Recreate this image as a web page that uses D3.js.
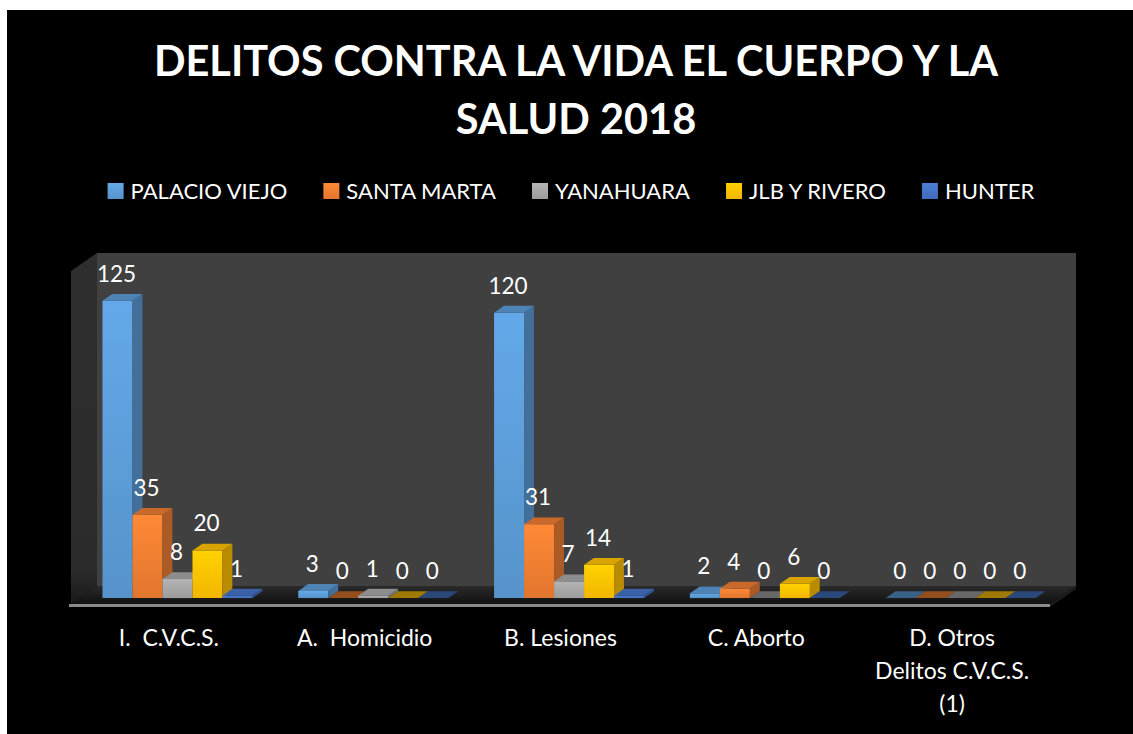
<!DOCTYPE html>
<html>
<head>
<meta charset="utf-8">
<script src="https://cdn.jsdelivr.net/npm/d3@7"></script>
<style>
  html, body { margin: 0; padding: 0; background: #fff; }
  svg { display: block; }
  text { font-family: Lato, "Open Sans", sans-serif; fill: #fff; }
</style>
</head>
<body>
<div id="chart"></div>
<script>
// ---------------------------------------------------------------------------
// Data

const titleLines = ['DELITOS CONTRA LA VIDA EL CUERPO Y LA', 'SALUD 2018'];
const categories = ['I.  C.V.C.S.', 'A.  Homicidio', 'B. Lesiones', 'C. Aborto', 'D. Otros\nDelitos C.V.C.S.\n(1)'];
const seriesNames = ['PALACIO VIEJO', 'SANTA MARTA', 'YANAHUARA', 'JLB Y RIVERO', 'HUNTER'];
const palacioViejo = [125, 3, 120, 2, 0];
const santaMarta = [35, 0, 31, 4, 0];
const yanahuara = [8, 1, 7, 0, 0];
const jlbRivero = [20, 0, 14, 6, 0];
const hunter = [1, 0, 1, 0, 0];
const seriesColors = ['#5B9BD5', '#ED7D31', '#A5A5A5', '#FFC000', '#4472C4'];
const axisMax = 140;

const seriesValues = [palacioViejo, santaMarta, yanahuara, jlbRivero, hunter];

// ---------------------------------------------------------------------------
// Layout

const width = 1133;
const height = 734;
const floorY = 604;      // front edge of the floor
const depthX = 26;       // oblique offset of full depth
const depthY = 18;
const barZ0 = 0.33;
const barZ1 = 0.71;
const barWidth = 30;

const svg = d3.select('#chart').append('svg')
  .attr('width', width)
  .attr('height', height);

svg.append('rect')
  .attr('x', 7).attr('y', 10)
  .attr('width', width - 7).attr('height', height - 10)
  .attr('fill', '#000');

const x0 = d3.scaleBand()
  .domain(categories)
  .range([71, 1050]);

const x1 = d3.scaleBand()
  .domain(seriesNames)
  .range([(x0.bandwidth() - barWidth * seriesNames.length) / 2,
          (x0.bandwidth() + barWidth * seriesNames.length) / 2]);

const hScale = d3.scaleLinear()
  .domain([0, axisMax])
  .range([0, 333]);

function proj(x, h, z) {
  return [x + z * depthX, floorY - z * depthY - h];
}
function poly(points) {
  return 'M' + points.map(p => p.join(',')).join('L') + 'Z';
}

const defs = svg.append('defs');

// ---------------------------------------------------------------------------
// Walls and floor

const xMin = x0.range()[0];
const xMax = x0.range()[1];
const hMax = hScale(axisMax);

const floorGrad = defs.append('linearGradient')
  .attr('id', 'floor-grad').attr('x1', 0).attr('y1', 0).attr('x2', 0).attr('y2', 1);
floorGrad.append('stop').attr('offset', '0%').attr('stop-color', '#2a2a2a');
floorGrad.append('stop').attr('offset', '100%').attr('stop-color', '#111');

const sideGrad = defs.append('linearGradient')
  .attr('id', 'side-grad').attr('x1', 0).attr('y1', 0).attr('x2', 0).attr('y2', 1);
sideGrad.append('stop').attr('offset', '0%').attr('stop-color', '#2e2e2e');
sideGrad.append('stop').attr('offset', '90%').attr('stop-color', '#2b2b2b');
sideGrad.append('stop').attr('offset', '100%').attr('stop-color', '#1a1a1a');

svg.append('path')
  .attr('d', poly([proj(xMin, 0, 1), proj(xMax, 0, 1), proj(xMax, hMax, 1), proj(xMin, hMax, 1)]))
  .attr('fill', '#404040');

svg.append('path')
  .attr('d', poly([proj(xMin, 0, 0), proj(xMin, 0, 1), proj(xMin, hMax, 1), proj(xMin, hMax, 0)]))
  .attr('fill', 'url(#side-grad)');

svg.append('path')
  .attr('d', poly([proj(xMin, 0, 0), proj(xMax, 0, 0), proj(xMax, 0, 1), proj(xMin, 0, 1)]))
  .attr('fill', 'url(#floor-grad)');

// floor slab front edge
svg.append('path')
  .attr('d', poly([[xMin - 2, floorY], [xMax, floorY], [xMax, floorY + 3], [xMin - 2, floorY + 3]]))
  .attr('fill', '#8a8a8a');
svg.append('path')
  .attr('d', poly([[xMax, floorY], proj(xMax, 0, 1), [xMax + depthX, floorY - depthY + 3], [xMax, floorY + 3]]))
  .attr('fill', '#1c1c1c');

// ---------------------------------------------------------------------------
// Bars

seriesColors.forEach((c, i) => {
  const g = defs.append('linearGradient')
    .attr('id', 'bar-grad-' + i).attr('x1', 0).attr('y1', 0).attr('x2', 0).attr('y2', 1);
  g.append('stop').attr('offset', '0%').attr('stop-color', d3.color(c).brighter(0.25));
  g.append('stop').attr('offset', '100%').attr('stop-color', d3.color(c).darker(0.15));
});

const bars = [];
categories.forEach((cat, ci) => {
  seriesNames.forEach((s, si) => {
    bars.push({category: cat, series: s, si: si, value: seriesValues[si][ci]});
  });
});

const barG = svg.append('g').attr('class', 'bars');

const barItems = barG.selectAll('.bar')
  .data(bars)
  .enter().append('g')
  .attr('class', 'bar');

barItems.each(function(d) {
  const g = d3.select(this);
  const x = x0(d.category) + x1(d.series);
  const w = x1.bandwidth();
  const h = hScale(d.value);
  const base = d3.color(seriesColors[d.si]);
  if (h > 0) {
    g.append('path')
      .attr('d', poly([proj(x, 0, barZ0), proj(x + w, 0, barZ0), proj(x + w, h, barZ0), proj(x, h, barZ0)]))
      .attr('fill', 'url(#bar-grad-' + d.si + ')');
    g.append('path')
      .attr('d', poly([proj(x + w, 0, barZ0), proj(x + w, 0, barZ1), proj(x + w, h, barZ1), proj(x + w, h, barZ0)]))
      .attr('fill', base.darker(0.9));
  }
  g.append('path')
    .attr('d', poly([proj(x, h, barZ0), proj(x + w, h, barZ0), proj(x + w, h, barZ1), proj(x, h, barZ1)]))
    .attr('fill', h > 0 ? base.darker(0.45) : base.darker(1.3));
});

// value labels
barG.selectAll('.value-label')
  .data(bars)
  .enter().append('text')
  .attr('class', 'value-label')
  .attr('x', d => proj(x0(d.category) + x1(d.series) + x1.bandwidth() / 2, 0, barZ0)[0] - 1)
  .attr('y', d => proj(0, hScale(d.value), barZ0)[1] - 19)
  .attr('text-anchor', 'middle')
  .style('font-size', '22.5px')
  .text(d => d.value);

// ---------------------------------------------------------------------------
// Category labels

const catLabels = svg.append('g').selectAll('.cat-label')
  .data(categories)
  .enter().append('text')
  .attr('class', 'cat-label')
  .attr('text-anchor', 'middle')
  .style('font-size', '23px');

catLabels.each(function(d) {
  const t = d3.select(this);
  d.split('\n').forEach((line, li) => {
    t.append('tspan')
      .attr('x', x0(d) + x0.bandwidth() / 2)
      .attr('y', 646 + li * 33)
      .style('white-space', 'pre')
      .text(line);
  });
});

// ---------------------------------------------------------------------------
// Title

svg.append('g').selectAll('.title')
  .data(titleLines)
  .enter().append('text')
  .attr('class', 'title')
  .attr('x', 576)
  .attr('y', (d, i) => 76 + i * 58)
  .attr('text-anchor', 'middle')
  .style('font-size', '41.5px')
  .style('font-weight', 'bold')
  .text(d => d);

// ---------------------------------------------------------------------------
// Legend

const legend = svg.append('g').attr('class', 'legend');
const items = legend.selectAll('.legend-item')
  .data(seriesNames)
  .enter().append('g')
  .attr('class', 'legend-item');

items.append('rect')
  .attr('width', 16).attr('height', 16)
  .attr('y', 183)
  .attr('fill', (d, i) => 'url(#bar-grad-' + i + ')');

items.append('text')
  .attr('x', 23)
  .attr('y', 199)
  .style('font-size', '22px')
  .text(d => d);

let offset = 0;
const positions = [];
items.each(function() {
  const w = this.getBBox().width;
  positions.push(offset);
  offset += w + 36;
});
const legendWidth = offset - 36;
const legendStart = 571 - legendWidth / 2;
items.attr('transform', (d, i) => 'translate(' + (legendStart + positions[i]) + ',0)');
</script>
</body>
</html>
